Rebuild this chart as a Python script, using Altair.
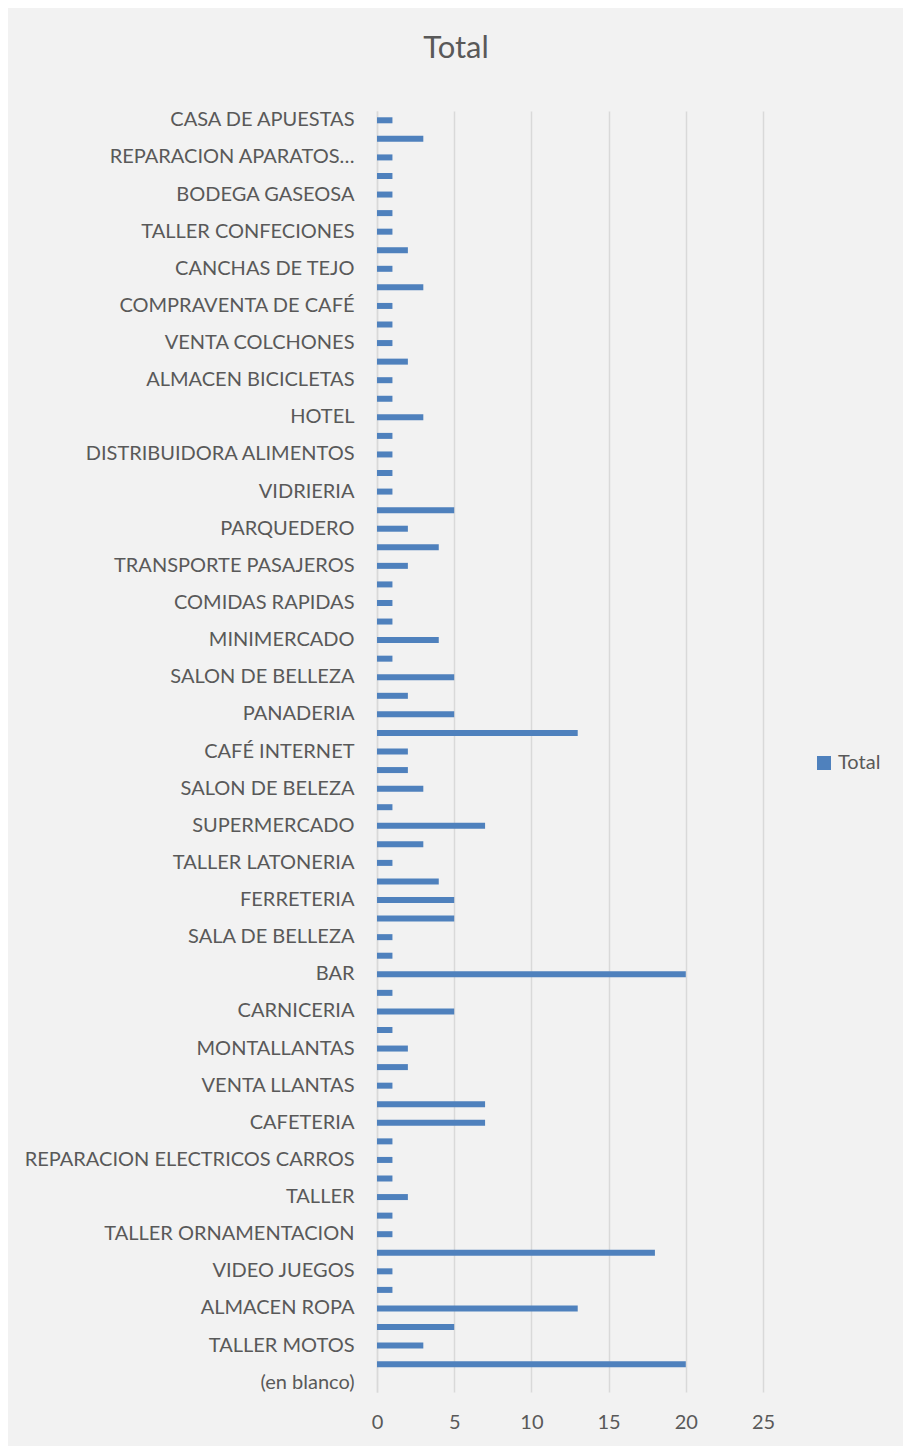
import altair as alt
import pandas as pd

# Labels visible on the axis (every other category), top to bottom
shown_labels = [
    "CASA DE APUESTAS", "REPARACION APARATOS…", "BODEGA GASEOSA", "TALLER CONFECIONES",
    "CANCHAS DE TEJO", "COMPRAVENTA DE CAFÉ", "VENTA COLCHONES", "ALMACEN BICICLETAS",
    "HOTEL", "DISTRIBUIDORA ALIMENTOS", "VIDRIERIA", "PARQUEDERO",
    "TRANSPORTE PASAJEROS", "COMIDAS RAPIDAS", "MINIMERCADO", "SALON DE BELLEZA",
    "PANADERIA", "CAFÉ INTERNET", "SALON DE BELEZA", "SUPERMERCADO",
    "TALLER LATONERIA", "FERRETERIA", "SALA DE BELLEZA", "BAR",
    "CARNICERIA", "MONTALLANTAS", "VENTA LLANTAS", "CAFETERIA",
    "REPARACION ELECTRICOS CARROS", "TALLER", "TALLER ORNAMENTACION", "VIDEO JUEGOS",
    "ALMACEN ROPA", "TALLER MOTOS", "(en blanco)",
]

# Totals for all 69 categories, top to bottom (last one, "(en blanco)", has no bar)
totals = [
    1, 3, 1, 1, 1, 1, 1, 2, 1, 3,
    1, 1, 1, 2, 1, 1, 3, 1, 1, 1,
    1, 5, 2, 4, 2, 1, 1, 1, 4, 1,
    5, 2, 5, 13, 2, 2, 3, 1, 7, 3,
    1, 4, 5, 5, 1, 1, 20, 1, 5, 1,
    2, 2, 1, 7, 7, 1, 1, 1, 2, 1,
    1, 18, 1, 1, 13, 5, 3, 20, None,
]

categories = []
for i in range(len(totals)):
    if i % 2 == 0:
        categories.append(shown_labels[i // 2])
    else:
        categories.append(f"sin etiqueta {i // 2 + 1}")

x_ticks = [0, 5, 10, 15, 20, 25]

df = pd.DataFrame({"Categoria": categories, "Total": totals, "Serie": "Total"})

FONT = "Lato"
TEXT = "#595959"
GRID = "#D9D9D9"
BAR = "#4F81BD"

chart = (
    alt.Chart(df)
    .mark_bar(size=6)
    .encode(
        y=alt.Y(
            "Categoria:N",
            sort=categories,
            scale=alt.Scale(paddingInner=0.0, paddingOuter=0.0),
            axis=alt.Axis(
                title=None,
                values=shown_labels,
                ticks=False,
                domain=True,
                domainColor=GRID,
                domainWidth=1.5,
                labelFont=FONT,
                labelFontSize=20,
                labelColor=TEXT,
                labelPadding=23,
                labelLimit=400,
            ),
        ),
        x=alt.X(
            "Total:Q",
            scale=alt.Scale(domain=[0, 25], nice=False),
            axis=alt.Axis(
                title=None,
                values=x_ticks,
                ticks=False,
                domain=False,
                grid=True,
                gridColor=GRID,
                gridWidth=1.5,
                labelFont=FONT,
                labelFontSize=20,
                labelColor=TEXT,
                labelPadding=20,
                labelFlush=False,
            ),
        ),
        color=alt.Color(
            "Serie:N",
            scale=alt.Scale(range=[BAR]),
            legend=alt.Legend(
                title=None,
                orient="none",
                legendX=437,
                legendY=642,
                symbolType="square",
                symbolSize=196,
                symbolStrokeWidth=0,
                labelFont=FONT,
                labelFontSize=20,
                labelColor=TEXT,
                labelOffset=4,
            ),
        ),
    )
    .properties(
        width=386,
        height=1281,
        background="#F2F2F2",
        padding={"left": 369, "top": 103, "right": 140, "bottom": 54},
        autosize=alt.AutoSizeParams(type="none"),
        title=alt.TitleParams(
            "Total",
            font=FONT,
            fontSize=31,
            fontWeight="normal",
            color=TEXT,
            anchor="middle",
            dx=-114,
            offset=45,
        ),
    )
    .configure_view(stroke=None)
)

chart.save("out.html", embed_options={"renderer": "svg", "actions": False})
